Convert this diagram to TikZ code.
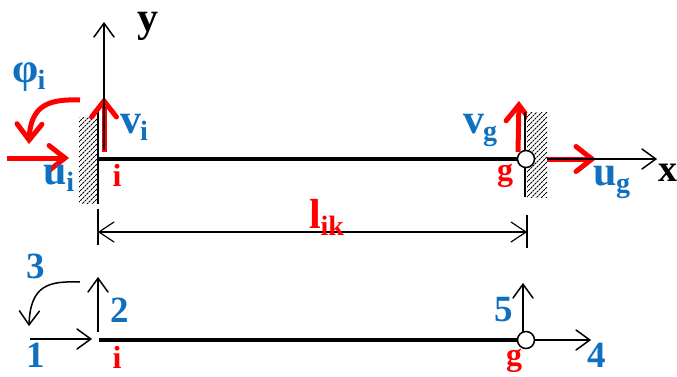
\documentclass[tikz,border=0pt]{standalone}
\usepackage{fontspec}
\setmainfont{Liberation Serif}
\usetikzlibrary{arrows.meta}
\definecolor{lblue}{HTML}{0F70C0}
\newcommand{\bigsub}[2]{{\fontsize{42}{42}\selectfont\bfseries #1}\kern-1pt\raisebox{-7pt}{\fontsize{28}{28}\selectfont\bfseries #2}}
\pgfdeclarearrow{
  name=PlainBarb,
  defaults={length=10pt,width=20pt},
  setup code={%
    \pgfarrowssettipend{0pt}%
    \pgfarrowssetlineend{-0.8\pgflinewidth}%
    \pgfarrowssetvisualbackend{-\pgfarrowlength}%
    \pgfarrowssetbackend{-\pgfarrowlength}%
    \pgfarrowshullpoint{0pt}{0pt}%
    \pgfarrowssavethe\pgfarrowlength
    \pgfarrowssavethe\pgfarrowwidth},
  drawing code={%
    \pgfsetdash{}{0pt}%
    \pgfsetroundcap
    \pgfsetmiterjoin
    \pgfpathmoveto{\pgfpoint{-\pgfarrowlength}{0.5\pgfarrowwidth}}%
    \pgfpathlineto{\pgfpoint{-0.8\pgflinewidth}{0pt}}%
    \pgfpathlineto{\pgfpoint{-\pgfarrowlength}{-0.5\pgfarrowwidth}}%
    \pgfusepathqstroke},
  parameters={\the\pgfarrowlength,\the\pgfarrowwidth}
}
\tikzset{
  x=1pt,y=-1pt,
  blk/.style={line width=1.5pt,-{PlainBarb[length=15pt,width=20pt]}},
  red arr/.style={red,line width=5pt,line cap=butt,-{PlainBarb[length=20pt,width=25pt]}},
  beam/.style={line width=4pt},
  thinline/.style={line width=1.6pt},
  hinge/.style={circle,draw,fill=white,line width=1.5pt,minimum size=17pt,inner sep=0pt},
  bl/.style={font=\fontsize{37}{37}\selectfont\bfseries,text=lblue,inner sep=0pt},
  rd/.style={font=\fontsize{32}{32}\selectfont\bfseries,text=red,inner sep=0pt},
  bk/.style={font=\fontsize{42}{42}\selectfont\bfseries,text=black,inner sep=0pt},
  hatchline/.style={line width=0.9pt,dash pattern=on 2.2pt off 0.8pt},
}
\newcommand{\hatchbox}[4]{%
  \begin{scope}
    \fill[white] (#1,#2) rectangle (#3,#4);
    \clip (#1,#2) rectangle (#3,#4);
    \foreach \k in {0,5,...,130}{
      \draw[hatchline] (#1-5,#2+\k) -- (#3+5,#2+\k-#3+#1-10);
    }
  \end{scope}}
\begin{document}
\begin{tikzpicture}
\useasboundingbox (0,0) rectangle (677,376);
% upper frame points
\coordinate (iU) at (98,159);
\node[coordinate] (gU) at (526,159) {};
\coordinate (ytip) at (104,22);
\coordinate (ybase) at (104,150);
\coordinate (xbase) at (547,159);
\coordinate (xtip) at (657,159);
% v_g runs behind the right wall
\coordinate (vga) at (518,152); \coordinate (vgb) at (519,101);
\draw[red arr] (vga) -- (vgb);
\hatchbox{79}{117}{97}{203}
\hatchbox{527}{112}{547}{197}
% wall lines
\coordinate (wlT) at (98,112); \coordinate (wlB) at (98,204);
\coordinate (wrT) at (525,112); \coordinate (wrB) at (525,197);
\draw[thinline] (wlT) -- (wlB);
\draw[thinline] (wrT) -- (wrB);
% beam
\draw[beam] (iU) -- (gU);
% dimension
\coordinate (dlT) at (98,209); \coordinate (dlB) at (98,245);
\coordinate (drT) at (527,215); \coordinate (drB) at (527,248);
\draw[line width=1.2pt] (dlT) -- (dlB);
\draw[line width=1.2pt] (drT) -- (drB);
\coordinate (da) at (98,232); \coordinate (db) at (527,232);
\draw[line width=1.2pt,{PlainBarb[length=16pt,width=20pt]}-{PlainBarb[length=16pt,width=20pt]}] (da) -- (db);
% red arrows
\coordinate (uia) at (7,158); \coordinate (uib) at (69,158);
\draw[red arr] (uia) -- (uib);
\coordinate (via) at (104,152); \coordinate (vib) at (104,97);
\draw[red arr] (via) -- (vib);
\coordinate (pa) at (80,100); \coordinate (pb) at (29,144);
\draw[red arr] (pa) .. controls (50,99) and (30,104) .. (pb);
\coordinate (uga) at (547,159); \coordinate (ugb) at (596,159);
\draw[red arr] (uga) -- (ugb);
% axes over the red shafts
\draw[blk] (ybase) -- (ytip);
\draw[blk] (xbase) -- (xtip);
\node[hinge] (hU) at (gU) {};
% lower frame
\coordinate (iL) at (99,340);
\coordinate (gL) at (526,340);
\draw[beam] (iL) -- (gL);
\node[hinge] (hL) at (gL) {};
\coordinate (a1a) at (30,339); \coordinate (a1b) at (92,339);
\draw[blk] (a1a) -- (a1b);
\coordinate (a2a) at (98,332); \coordinate (a2b) at (98,277);
\draw[blk] (a2a) -- (a2b);
\coordinate (a3a) at (80,282); \coordinate (a3b) at (29,326);
\draw[blk] (a3a) .. controls (50,281) and (30,284) .. (a3b);
\coordinate (a5a) at (523,332); \coordinate (a5b) at (523,283);
\draw[blk] (a5a) -- (a5b);
\coordinate (a4b) at (591,340);
\draw[blk] (hL.east) -- (a4b);
% labels
\node[bk] (ly) at (148,26) {y};
\node[bk,font=\fontsize{38}{38}\selectfont\bfseries] (lx) at (668,173) {x};
\node[text=lblue,inner sep=0pt] (phi) at (29,77) {\bigsub{φ}{i}};
\node[text=lblue,inner sep=0pt] (ui) at (59,178) {\bigsub{u}{i}};
\node[text=lblue,inner sep=0pt] (vi) at (134,127) {\bigsub{v}{i}};
\node[rd] (ri) at (117,175) {i};
\node[text=lblue,inner sep=0pt] (vg) at (480,130) {\bigsub{v}{g}};
\node[rd] (rg) at (505,176) {g};
\node[text=lblue,inner sep=0pt] (ug) at (612,182) {\bigsub{u}{g}};
\node[text=red,inner sep=0pt] (lik) at (327,217) {\bigsub{l}{ik}};
\node[bl] (n3) at (36,266) {3};
\node[bl] (n2) at (120,310) {2};
\node[bl] (n1) at (36,355) {1};
\node[rd] (ri2) at (117,357) {i};
\node[bl] (n5) at (504,310) {5};
\node[rd] (rg2) at (514,361) {g};
\node[bl] (n4) at (597,355) {4};
\end{tikzpicture}
\end{document}
